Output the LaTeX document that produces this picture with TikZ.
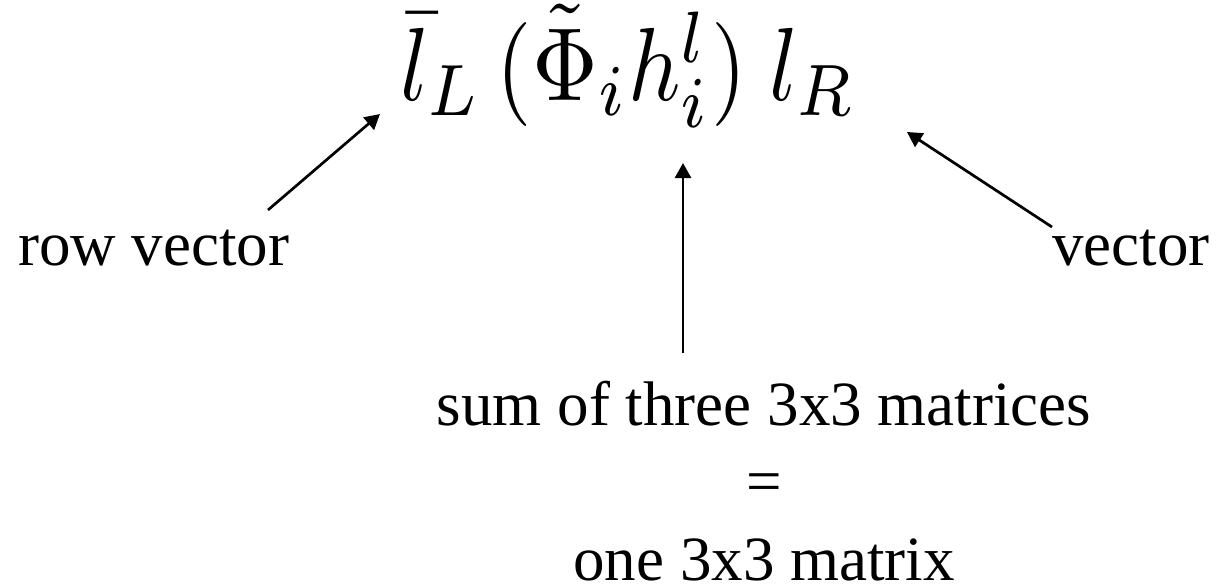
\documentclass[tikz,border=0pt]{standalone}
\usepackage{fontspec}
\setmainfont{Liberation Serif}
\usepackage{graphicx}
\usetikzlibrary{arrows.meta}
\begin{document}
\begin{tikzpicture}[x=1pt,y=-1pt,
  lbl/.style={inner sep=0pt,font=\fontsize{63}{75}\selectfont},
  ptr/.style={line width=2.7pt,-{Triangle[length=15pt,width=16pt]}}]
\useasboundingbox (0,0) rectangle (1219,587);
\node[inner sep=0pt,anchor=base west] (f) at (400,100)
  {\scalebox{9.1}[10.4]{$\bar l_L\,(\tilde\Phi_i h_i^l)\ l_R$}};
\node[lbl,anchor=base west] (rv) at (18,265) {row vector};
\node[lbl,anchor=base east] (v) at (1210,265) {vector};
\node[lbl,anchor=base] (s1) at (764,425) {sum of three 3x3 matrices};
\node[lbl,anchor=base] (s2) at (764,502) {=};
\node[lbl,anchor=base] (s3) at (764,580) {one 3x3 matrix};
\coordinate (a1) at (268,210);
\coordinate (b1) at (380,114);
\coordinate (a2) at (683,353);
\coordinate (b2) at (683,163);
\coordinate (a3) at (1052,227);
\coordinate (b3) at (907,132);
\draw[ptr] (a1) -- (b1);
\draw[ptr] (a2) -- (b2);
\draw[ptr] (a3) -- (b3);
\end{tikzpicture}
\end{document}
